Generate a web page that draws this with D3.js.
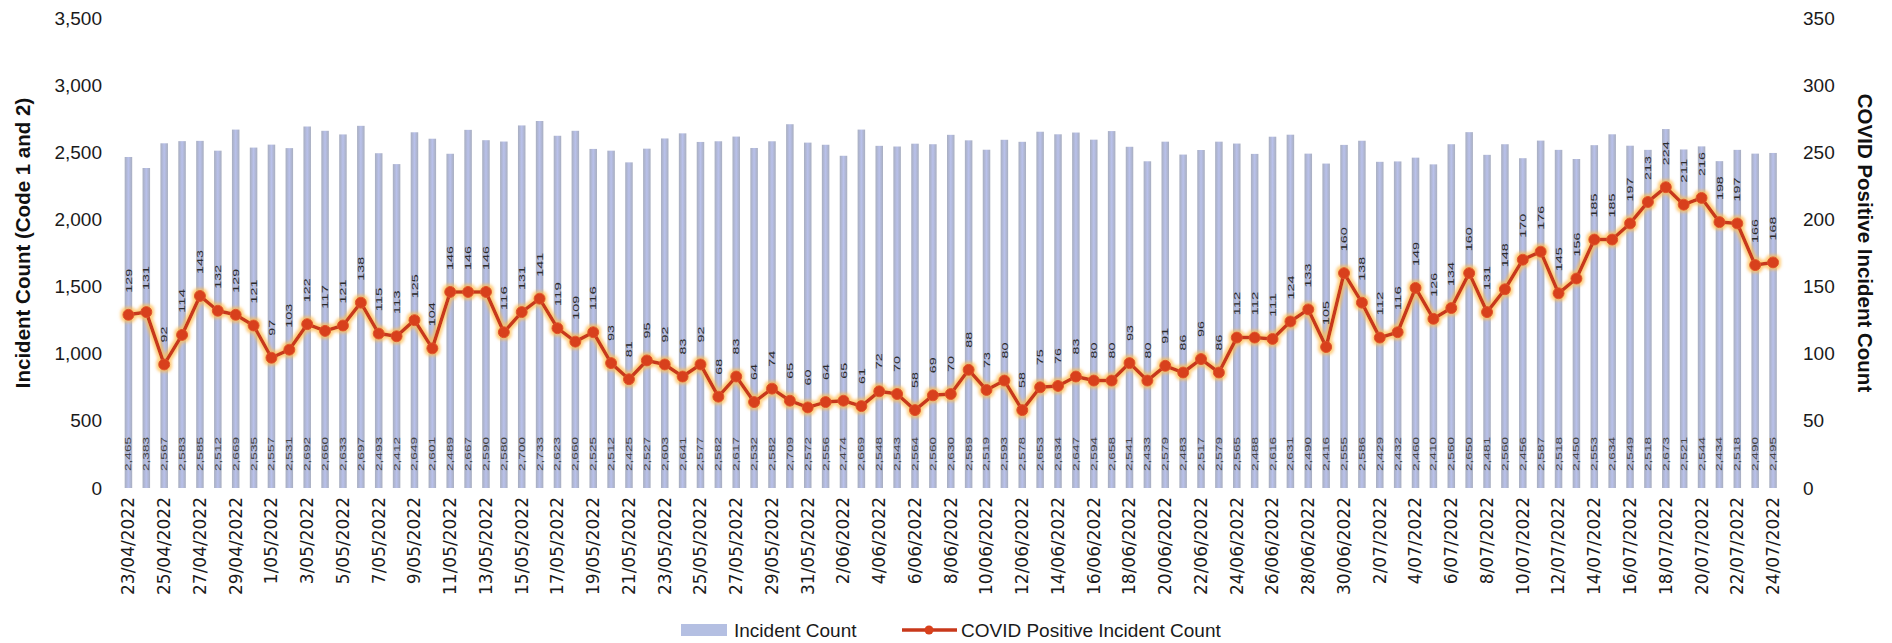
<!DOCTYPE html>
<html>
<head>
<meta charset="utf-8">
<script src="https://cdn.jsdelivr.net/npm/d3@7"></script>
<style>
  html, body { margin: 0; padding: 0; background: #ffffff; }
  svg { display: block; }
</style>
</head>
<body>
<svg id="chart" width="1892" height="643"></svg>
<script>
// ---------- DATA ----------
const dates = [
  "23/04/2022","24/04/2022","25/04/2022","26/04/2022","27/04/2022","28/04/2022","29/04/2022","30/04/2022",
  "1/05/2022","2/05/2022","3/05/2022","4/05/2022","5/05/2022","6/05/2022","7/05/2022","8/05/2022","9/05/2022","10/05/2022",
  "11/05/2022","12/05/2022","13/05/2022","14/05/2022","15/05/2022","16/05/2022","17/05/2022","18/05/2022","19/05/2022","20/05/2022",
  "21/05/2022","22/05/2022","23/05/2022","24/05/2022","25/05/2022","26/05/2022","27/05/2022","28/05/2022","29/05/2022","30/05/2022","31/05/2022",
  "1/06/2022","2/06/2022","3/06/2022","4/06/2022","5/06/2022","6/06/2022","7/06/2022","8/06/2022","9/06/2022","10/06/2022",
  "11/06/2022","12/06/2022","13/06/2022","14/06/2022","15/06/2022","16/06/2022","17/06/2022","18/06/2022","19/06/2022","20/06/2022",
  "21/06/2022","22/06/2022","23/06/2022","24/06/2022","25/06/2022","26/06/2022","27/06/2022","28/06/2022","29/06/2022","30/06/2022",
  "1/07/2022","2/07/2022","3/07/2022","4/07/2022","5/07/2022","6/07/2022","7/07/2022","8/07/2022","9/07/2022","10/07/2022",
  "11/07/2022","12/07/2022","13/07/2022","14/07/2022","15/07/2022","16/07/2022","17/07/2022","18/07/2022","19/07/2022","20/07/2022",
  "21/07/2022","22/07/2022","23/07/2022","24/07/2022"
];
const incidentCount = [
  2465,2383,2567,2583,2585,2512,2669,2535,2557,2531,2692,2660,2633,2697,2493,2412,2649,2601,2489,2667,
  2590,2580,2700,2733,2623,2660,2525,2512,2425,2527,2603,2641,2577,2582,2617,2532,2582,2709,2572,2556,
  2474,2669,2548,2543,2564,2560,2630,2589,2519,2593,2578,2653,2634,2647,2594,2658,2541,2433,2579,2483,
  2517,2579,2565,2488,2616,2631,2490,2416,2555,2586,2429,2432,2460,2410,2560,2650,2481,2560,2456,2587,
  2518,2450,2553,2634,2549,2518,2673,2521,2544,2434,2518,2490,2495
];
const covidPositive = [
  129,131,92,114,143,132,129,121,97,103,122,117,121,138,115,113,125,104,146,146,
  146,116,131,141,119,109,116,93,81,95,92,83,92,68,83,64,74,65,60,64,
  65,61,72,70,58,69,70,88,73,80,58,75,76,83,80,80,93,80,91,86,
  96,86,112,112,111,124,133,105,160,138,112,116,149,126,134,160,131,148,170,176,
  145,156,185,185,197,213,224,211,216,198,197,166,168
];
const leftTicks = [0,500,1000,1500,2000,2500,3000,3500];
const rightTicks = [0,50,100,150,200,250,300,350];
const leftTitle = "Incident Count (Code 1 and 2)";
const rightTitle = "COVID Positive Incident Count";
const legendLabels = ["Incident Count", "COVID Positive Incident Count"];

// ---------- LAYOUT ----------
const svg = d3.select("#chart");
const plot = { left: 119.5, right: 1782, top: 18, bottom: 488 };
const lineColor = "#c8381b";
const markerColor = "#d8401c";

const x = d3.scaleBand().domain(d3.range(dates.length))
  .range([plot.left, plot.right]).paddingInner(0.58).paddingOuter(0.29);
const yL = d3.scaleLinear().domain([0, 3500]).range([plot.bottom, plot.top]);
const yR = d3.scaleLinear().domain([0, 350]).range([plot.bottom, plot.top]);
const cx = i => x(i) + x.bandwidth() / 2;
const fmt = d3.format(",");

// defs
const defs = svg.append("defs");
const grad = defs.append("linearGradient").attr("id", "barGrad")
  .attr("x1", "0").attr("x2", "1").attr("y1", "0").attr("y2", "0");
grad.append("stop").attr("offset", "0%").attr("stop-color", "#a8aebf");
grad.append("stop").attr("offset", "50%").attr("stop-color", "#b9c1eb");
grad.append("stop").attr("offset", "100%").attr("stop-color", "#a8aebf");

const glow = defs.append("filter").attr("id", "glow")
  .attr("x", "-5%").attr("y", "-20%").attr("width", "110%").attr("height", "140%");
glow.append("feMorphology").attr("in", "SourceAlpha").attr("operator", "dilate").attr("radius", 2).attr("result", "d");
glow.append("feGaussianBlur").attr("in", "d").attr("stdDeviation", 1.8).attr("result", "b");
glow.append("feFlood").attr("flood-color", "#ffbe55").attr("flood-opacity", 0.75).attr("result", "f");
glow.append("feComposite").attr("in", "f").attr("in2", "b").attr("operator", "in").attr("result", "g");
const merge = glow.append("feMerge");
merge.append("feMergeNode").attr("in", "g");
merge.append("feMergeNode").attr("in", "SourceGraphic");

// ---------- BARS ----------
svg.append("g").selectAll("rect").data(incidentCount).join("rect")
  .attr("x", (d, i) => x(i))
  .attr("y", d => yL(d))
  .attr("width", x.bandwidth())
  .attr("height", d => plot.bottom - yL(d))
  .attr("fill", "url(#barGrad)");

// bar value labels (rotated, inside bottom)
svg.append("g").selectAll("text").data(incidentCount).join("text")
  .attr("transform", (d, i) => `translate(${cx(i)},${plot.bottom - 17}) rotate(-90)`)
  .attr("dy", "0.35em")
  .attr("text-anchor", "start")
  .attr("font-family", "Liberation Sans, Arial, sans-serif")
  .attr("font-size", 8.5)
  .attr("fill", "#444")
  .attr("textLength", 34)
  .attr("lengthAdjust", "spacingAndGlyphs")
  .text(d => fmt(d));

// ---------- LINE ----------
const line = d3.line().x((d, i) => cx(i)).y(d => yR(d));
const lineG = svg.append("g").attr("filter", "url(#glow)");
lineG.append("path").datum(covidPositive)
  .attr("d", line).attr("fill", "none")
  .attr("stroke", lineColor).attr("stroke-width", 3.5).attr("stroke-linejoin", "round");
lineG.selectAll("circle").data(covidPositive).join("circle")
  .attr("cx", (d, i) => cx(i)).attr("cy", d => yR(d)).attr("r", 5.5)
  .attr("fill", markerColor).attr("stroke", "#e0522a").attr("stroke-width", 1);

// line value labels
svg.append("g").selectAll("text").data(covidPositive).join("text")
  .attr("transform", (d, i) => `translate(${cx(i)},${yR(d) - 22}) rotate(-90)`)
  .attr("dy", "0.35em")
  .attr("text-anchor", "start")
  .attr("font-family", "Liberation Sans, Arial, sans-serif")
  .attr("font-size", 9)
  .attr("fill", "#2a2a2a")
  .attr("textLength", d => String(d).length * 8)
  .attr("lengthAdjust", "spacingAndGlyphs")
  .text(d => d);

// ---------- AXES ----------
const tickFont = "Liberation Sans, Arial, sans-serif";
const leftAxis = d3.axisLeft(yL).tickValues(leftTicks).tickFormat(fmt).tickSize(0).tickPadding(0);
svg.append("g").attr("transform", `translate(102,0)`).call(leftAxis)
  .call(g => g.select(".domain").remove())
  .call(g => g.selectAll("text").attr("font-family", tickFont).attr("font-size", 19).attr("fill", "#1a1a1a"));

const rightAxis = d3.axisRight(yR).tickValues(rightTicks).tickSize(0).tickPadding(0);
svg.append("g").attr("transform", `translate(1803,0)`).call(rightAxis)
  .call(g => g.select(".domain").remove())
  .call(g => g.selectAll("text").attr("font-family", tickFont).attr("font-size", 19).attr("fill", "#1a1a1a"));

// x axis: every other date label, rotated
const xAxis = d3.axisBottom(x)
  .tickValues(d3.range(0, dates.length, 2))
  .tickFormat(i => dates[i]).tickSize(0).tickPadding(0);
svg.append("g").attr("transform", `translate(0,497)`).call(xAxis)
  .call(g => g.select(".domain").remove())
  .call(g => g.selectAll("text")
    .attr("font-family", "DejaVu Sans, Verdana, sans-serif").attr("font-size", 17).attr("fill", "#1a1a1a")
    .attr("transform", "rotate(-90)").attr("text-anchor", "end")
    .attr("x", 0).attr("y", 0).attr("dy", "0.35em"));

// axis titles
svg.append("text")
  .attr("transform", `translate(30,243) rotate(-90)`)
  .attr("text-anchor", "middle")
  .attr("font-family", tickFont).attr("font-weight", "bold").attr("font-size", 20.5).attr("fill", "#111")
  .text(leftTitle);
svg.append("text")
  .attr("transform", `translate(1858,243) rotate(90)`)
  .attr("text-anchor", "middle")
  .attr("font-family", tickFont).attr("font-weight", "bold").attr("font-size", 20.5).attr("fill", "#111")
  .text(rightTitle);

// ---------- LEGEND ----------
const lg = svg.append("g").attr("font-family", tickFont).attr("font-size", 19).attr("fill", "#1a1a1a");
lg.append("rect").attr("x", 681).attr("y", 624).attr("width", 46).attr("height", 12).attr("fill", "#b4bfe2");
lg.append("text").attr("x", 734).attr("y", 637).text(legendLabels[0]);
lg.append("line").attr("x1", 902).attr("x2", 957).attr("y1", 630).attr("y2", 630)
  .attr("stroke", lineColor).attr("stroke-width", 3.5);
lg.append("circle").attr("cx", 929).attr("cy", 630).attr("r", 4.5).attr("fill", markerColor);
lg.append("text").attr("x", 961).attr("y", 637).text(legendLabels[1]);
</script>
</body>
</html>
